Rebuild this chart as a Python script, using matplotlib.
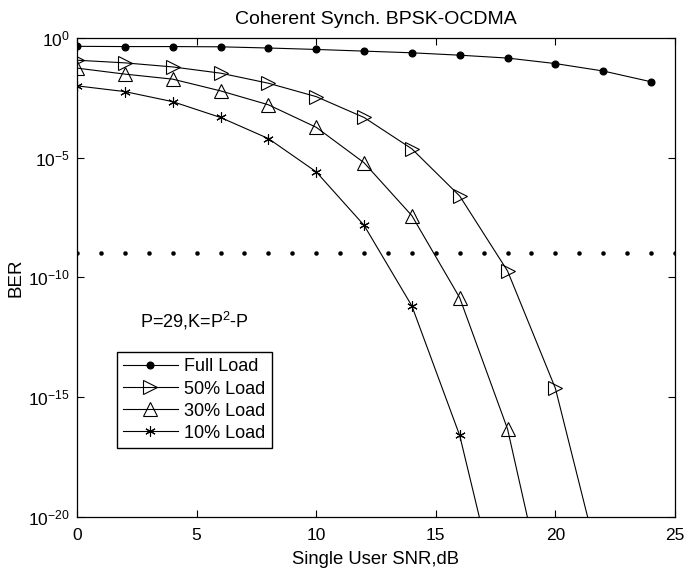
import numpy as np
import matplotlib
matplotlib.use("Agg")
import matplotlib.pyplot as plt

# === DATA (BER given as log10 values) ===
snr = [0, 2, 4, 6, 8, 10, 12, 14, 16, 18, 20, 22, 24]
full_load = [-0.35, -0.36, -0.36, -0.37, -0.42, -0.48, -0.55, -0.62, -0.72, -0.84, -1.07, -1.38, -1.83]
load_50 = [-0.93, -1.04, -1.21, -1.47, -1.89, -2.45, -3.32, -4.63, -6.6, -9.73, -14.63, -22.6]
load_30 = [-1.26, -1.51, -1.72, -2.21, -2.79, -3.73, -5.21, -7.42, -10.85, -16.33, -25.2]
load_10 = [-2.0, -2.24, -2.66, -3.32, -4.2, -5.59, -7.82, -11.19, -16.6, -24.9]

limit_snr = list(range(26))
limit_ber = 1e-9

labels = ["Full Load", "50% Load", "30% Load", "10% Load"]

# === STYLE ===
plt.rcParams["font.family"] = ["Liberation Sans", "DejaVu Sans"]
plt.rcParams["mathtext.default"] = "regular"

fig = plt.figure(figsize=(6.84, 5.75), dpi=100)
ax = fig.add_axes([0.1126, 0.101, 0.8742, 0.833])

lw = 0.8
ax.semilogy(snr[:len(full_load)], 10.0 ** np.array(full_load), "k-", marker="o",
            ms=4.8, mfc="k", lw=lw, label=labels[0])
ax.semilogy(snr[:len(load_50)], 10.0 ** np.array(load_50), "k-", marker=">",
            ms=9.5, mfc="none", mew=0.8, lw=lw, label=labels[1])
ax.semilogy(snr[:len(load_30)], 10.0 ** np.array(load_30), "k-", marker="^",
            ms=9.5, mfc="none", mew=0.8, lw=lw, label=labels[2])
ax.semilogy(snr[:len(load_10)], 10.0 ** np.array(load_10), "k-", marker=(6, 2, 0),
            ms=7.5, mew=0.8, lw=lw, label=labels[3])
ax.semilogy(limit_snr, [limit_ber] * len(limit_snr), "k.", ms=4.5, ls="none")

ax.set_xlim(0, 25)
ax.set_ylim(1e-20, 1)
ax.set_yticks([1e0, 1e-5, 1e-10, 1e-15, 1e-20])
ax.minorticks_off()
ax.set_xticks([0, 5, 10, 15, 20, 25])
ax.tick_params(direction="in", top=True, right=True, length=5, width=0.8, labelsize=12.5)
ax.tick_params(axis="x", pad=8)
ax.tick_params(axis="y", pad=5)
for s in ax.spines.values():
    s.set_linewidth(0.9)

ax.set_xlabel("Single User SNR,dB", fontsize=13.3, labelpad=6)
ax.set_ylabel("BER", fontsize=13.5, labelpad=3)
ax.set_title("Coherent Synch. BPSK-OCDMA", fontsize=14, pad=10)

leg = ax.legend(loc="lower left", bbox_to_anchor=(0.0669, 0.144), borderaxespad=0,
                fancybox=False, framealpha=1, edgecolor="k", fontsize=13,
                handlelength=3.0, handletextpad=0.36, labelspacing=0.28, borderpad=0.35)
leg.get_frame().set_linewidth(1.0)

ax.text(0.196, 0.409, "P=29,K=P$^2$-P", transform=ax.transAxes, ha="center",
        va="center", fontsize=13)

fig.savefig("out.png", dpi=100)
